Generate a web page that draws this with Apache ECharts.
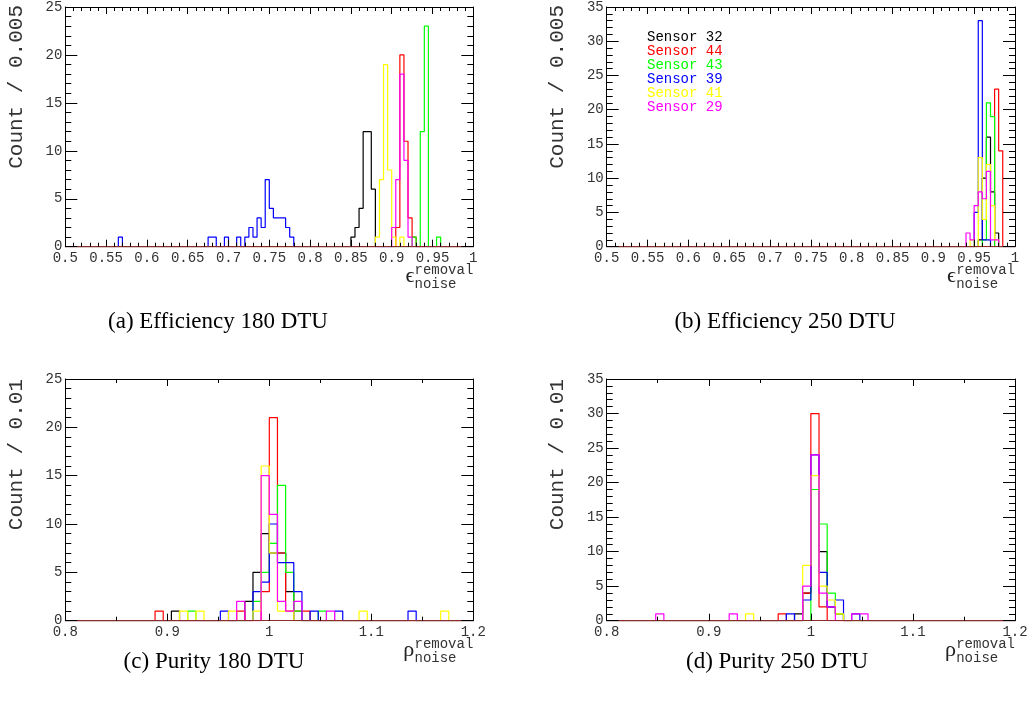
<!DOCTYPE html>
<html><head><meta charset="utf-8">
<script src="https://cdn.jsdelivr.net/npm/echarts@6.0.0/dist/echarts.min.js"></script>
<style>html,body{margin:0;padding:0;background:#fff}#c{width:1031px;height:713px}</style>
</head><body><div id="c"></div>
<script>
// ---------- DATA (bin low edge, count) ----------
const sensors = ['Sensor 32', 'Sensor 44', 'Sensor 43', 'Sensor 39', 'Sensor 41', 'Sensor 29'];

// (a) Efficiency 180 DTU, bins of 0.005 on [0.5, 1.0]
const effA_32 = [[0.850,1],[0.855,2],[0.860,4],[0.865,12],[0.870,12],[0.875,6]];
const effA_44 = [[0.905,2],[0.910,20],[0.915,11],[0.920,3],[0.925,1]];
const effA_43 = [[0.925,1],[0.935,12],[0.940,23],[0.955,1]];
const effA_39 = [[0.565,1],[0.675,1],[0.680,1],[0.695,1],[0.710,1],[0.720,1],[0.725,2],[0.730,1],[0.735,3],[0.740,2],[0.745,7],[0.750,4],[0.755,3],[0.760,3],[0.765,3],[0.770,2],[0.775,1]];
const effA_41 = [[0.880,1],[0.885,7],[0.890,19],[0.895,8],[0.900,1],[0.910,1]];
const effA_29 = [[0.900,2],[0.905,7],[0.910,18],[0.915,9],[0.920,1]];

// (b) Efficiency 250 DTU, bins of 0.005 on [0.5, 1.0]
const effB_32 = [[0.955,1],[0.960,10],[0.965,16],[0.970,8],[0.975,2]];
const effB_44 = [[0.975,23],[0.980,14]];
const effB_43 = [[0.960,1],[0.965,21],[0.970,19]];
const effB_39 = [[0.950,5],[0.955,33],[0.960,1],[0.965,1]];
const effB_41 = [[0.945,1],[0.955,13],[0.960,4],[0.965,12],[0.970,6],[0.975,1]];
const effB_29 = [[0.940,2],[0.945,1],[0.950,6],[0.955,8],[0.960,7],[0.965,11],[0.970,1],[0.975,1]];

// (c) Purity 180 DTU, bins of 0.008 on [0.8, 1.2]
const purC_32 = [[0.904,1],[0.976,2],[0.984,5],[0.992,9],[1.000,7],[1.008,7],[1.016,3]];
const purC_44 = [[0.888,1],[0.968,1],[0.992,3],[1.000,21],[1.008,7],[1.016,1],[1.024,1],[1.032,1]];
const purC_43 = [[0.920,1],[0.984,2],[0.992,5],[1.000,8],[1.008,14],[1.016,5],[1.024,1],[1.048,1]];
const purC_39 = [[0.952,1],[0.984,3],[0.992,4],[1.000,10],[1.008,6],[1.016,6],[1.024,3],[1.040,1],[1.064,1],[1.136,1]];
const purC_41 = [[0.912,1],[0.928,1],[0.960,1],[0.984,1],[0.992,16],[1.000,7],[1.008,1],[1.016,1],[1.088,1],[1.168,1]];
const purC_29 = [[0.968,2],[0.992,15],[1.000,11],[1.008,2],[1.016,1],[1.024,2],[1.056,1]];

// (d) Purity 250 DTU, bins of 0.008 on [0.8, 1.2]
const purD_32 = [[0.984,1],[0.992,4],[1.000,19],[1.008,10],[1.016,2],[1.024,1]];
const purD_44 = [[0.968,1],[0.992,4],[1.000,30],[1.008,2]];
const purD_43 = [[1.000,19],[1.008,14],[1.016,4],[1.024,1]];
const purD_39 = [[0.976,1],[0.992,3],[1.000,24],[1.008,7],[1.016,2],[1.024,3],[1.040,1]];
const purD_41 = [[0.936,1],[0.992,8],[1.000,21],[1.008,5],[1.016,3],[1.024,1]];
const purD_29 = [[0.848,1],[0.920,1],[0.992,5],[1.000,24],[1.008,4],[1.016,2],[1.040,1],[1.048,1]];

const captions = ['(a) Efficiency 180 DTU', '(b) Efficiency 250 DTU', '(c) Purity 180 DTU', '(d) Purity 250 DTU'];
const yTitles = ['Count / 0.005', 'Count / 0.005', 'Count / 0.01', 'Count / 0.01'];

// ---------- STYLE / LAYOUT ----------
const colors = ['#000000', '#ff0000', '#00ff00', '#0000ff', '#ffff00', '#ff00ff'];
const MONO = '"Liberation Mono", "DejaVu Sans Mono", monospace';
const SERIF = '"Liberation Serif", "DejaVu Serif", serif';

const panels = [
  {left: 65.3, top: 5, width: 408, height: 241.7, lo: 0.5, hi: 1.0, bw: 0.005, nb: 100, xInt: 0.05, xMinor: 5, yMax: 25, sym: 'ϵ', data: [effA_32, effA_44, effA_43, effA_39, effA_41, effA_29], capX: 218, capY: 322},
  {left: 606.7, top: 5, width: 408.3, height: 241.7, lo: 0.5, hi: 1.0, bw: 0.005, nb: 100, xInt: 0.05, xMinor: 5, yMax: 35, sym: 'ϵ', data: [effB_32, effB_44, effB_43, effB_39, effB_41, effB_29], capX: 785, capY: 322},
  {left: 65.3, top: 379, width: 408, height: 241.7, lo: 0.8, hi: 1.2, bw: 0.008, nb: 50, xInt: 0.1, xMinor: 2, yMax: 25, sym: 'ρ', data: [purC_32, purC_44, purC_43, purC_39, purC_41, purC_29], capX: 214, capY: 662},
  {left: 606.7, top: 379, width: 408.3, height: 241.7, lo: 0.8, hi: 1.2, bw: 0.008, nb: 50, xInt: 0.1, xMinor: 2, yMax: 35, sym: 'ρ', data: [purD_32, purD_44, purD_43, purD_39, purD_41, purD_29], capX: 777, capY: 662}
];

function hist(pairs, lo, bw, nb) {
  const counts = new Array(nb).fill(0);
  pairs.forEach(([x, c]) => { counts[Math.round((x - lo) / bw)] = c; });
  const out = [];
  for (let k = 0; k < nb; k++) out.push([lo + k * bw, counts[k]]);
  out.push([lo + nb * bw, counts[nb - 1]]);
  return out;
}

const fmt = v => String(+v.toFixed(3));
const grids = [], xAxes = [], yAxes = [], series = [], graphics = [];

panels.forEach((p, i) => {
  grids.push({left: p.left, top: p.top, width: p.width, height: p.height, containLabel: false});
  const tickBase = {lineStyle: {color: '#000', width: 1}};
  xAxes.push({
    type: 'value', gridIndex: i, position: 'bottom', min: p.lo, max: p.hi, interval: p.xInt, z: 3,
    splitLine: {show: false},
    axisLine: {show: true, onZero: false, lineStyle: {color: '#8e2c2c', width: 1}},
    axisTick: Object.assign({show: true, inside: true, length: 7}, tickBase),
    minorTick: Object.assign({show: true, splitNumber: p.xMinor, length: 4}, tickBase),
    axisLabel: {show: true, margin: 5, fontFamily: MONO, fontSize: 14, color: '#333', formatter: fmt, showMinLabel: true, showMaxLabel: true, hideOverlap: false}
  });
  xAxes.push({
    type: 'value', gridIndex: i, position: 'top', min: p.lo, max: p.hi, interval: p.xInt, z: 3,
    splitLine: {show: false},
    axisLine: {show: true, onZero: false, lineStyle: {color: '#000', width: 1}},
    axisTick: Object.assign({show: true, inside: true, length: 7}, tickBase),
    minorTick: Object.assign({show: true, splitNumber: p.xMinor, length: 4}, tickBase),
    axisLabel: {show: false}
  });
  yAxes.push({
    type: 'value', gridIndex: i, position: 'left', min: 0, max: p.yMax, interval: 5, z: 3,
    splitLine: {show: false},
    axisLine: {show: true, onZero: false, lineStyle: {color: '#000', width: 1}},
    axisTick: Object.assign({show: true, inside: true, length: 12}, tickBase),
    minorTick: Object.assign({show: true, splitNumber: 5, length: 6}, tickBase),
    axisLabel: {show: true, margin: 3, fontFamily: MONO, fontSize: 14, color: '#333', showMinLabel: true, showMaxLabel: true, hideOverlap: false}
  });
  yAxes.push({
    type: 'value', gridIndex: i, position: 'right', min: 0, max: p.yMax, interval: 5, z: 3,
    splitLine: {show: false},
    axisLine: {show: true, onZero: false, lineStyle: {color: '#000', width: 1}},
    axisTick: Object.assign({show: true, inside: true, length: 12}, tickBase),
    minorTick: Object.assign({show: true, splitNumber: 5, length: 6}, tickBase),
    axisLabel: {show: false}
  });
  p.data.forEach((pairs, j) => {
    series.push({
      type: 'line', name: sensors[j], xAxisIndex: 2 * i, yAxisIndex: 2 * i,
      step: 'end', symbol: 'none', silent: true, animation: false, z: 2,
      lineStyle: {color: colors[j], width: 1.2}, itemStyle: {color: colors[j]},
      data: hist(pairs, p.lo, p.bw, p.nb)
    });
  });
  const right = p.left + p.width;
  const base = p.top + p.height;
  graphics.push({type: 'text', x: p.left - 49.3, y: p.top, rotation: Math.PI / 2,
    style: {text: yTitles[i], font: '21px ' + MONO, fill: '#333', align: 'right', textAlign: 'right', verticalAlign: 'middle', textVerticalAlign: 'middle'}});
  graphics.push({type: 'text', x: right - 59, y: base + 30,
    style: {text: p.sym, font: '22px ' + SERIF, fill: '#222', align: 'right', textAlign: 'right', verticalAlign: 'middle', textVerticalAlign: 'middle'}});
  graphics.push({type: 'text', x: right, y: base + 24,
    style: {text: 'removal', font: '14px ' + MONO, fill: '#333', align: 'right', textAlign: 'right', verticalAlign: 'middle', textVerticalAlign: 'middle'}});
  graphics.push({type: 'text', x: right - 58.8, y: base + 38,
    style: {text: 'noise', font: '14px ' + MONO, fill: '#333', align: 'left', textAlign: 'left', verticalAlign: 'middle', textVerticalAlign: 'middle'}});
  graphics.push({type: 'text', x: p.capX, y: p.capY,
    style: {text: captions[i], font: '23px ' + SERIF, fill: '#000', align: 'center', textAlign: 'center', verticalAlign: 'middle', textVerticalAlign: 'middle'}});
});

const chart = echarts.init(document.getElementById('c'), null, {renderer: 'canvas'});
chart.setOption({
  animation: false,
  backgroundColor: '#fff',
  grid: grids, xAxis: xAxes, yAxis: yAxes, series: series,
  legend: {
    show: true, orient: 'vertical', left: 642, top: 30, icon: 'none', itemWidth: 0, itemHeight: 12.5, itemGap: 0,
    selectedMode: false, padding: 0,
    textStyle: {fontFamily: MONO, fontSize: 14, lineHeight: 12.5},
    data: sensors.map((s, j) => ({name: s, textStyle: {color: colors[j]}}))
  },
  graphic: graphics
});
</script></body></html>
